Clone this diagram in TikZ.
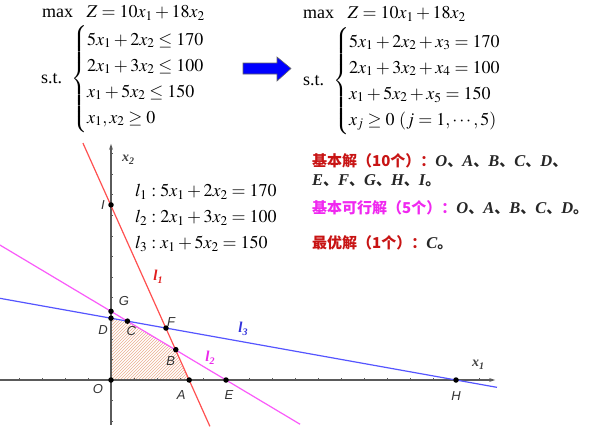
\documentclass[tikz,border=0pt]{standalone}
\usepackage{mathptmx}
\usepackage{fontspec}
\setmainfont{Liberation Serif}
\newfontfamily\cjk{Noto Sans CJK SC}
\newfontfamily\gsans{Liberation Sans}
\usetikzlibrary{patterns,arrows.meta}
\definecolor{lineR}{RGB}{255,80,80}
\definecolor{lineM}{RGB}{250,90,250}
\definecolor{lineB}{RGB}{85,85,255}
\definecolor{labR}{RGB}{225,30,30}
\definecolor{labM}{RGB}{235,40,235}
\definecolor{labB}{RGB}{50,50,220}
\definecolor{txtR}{RGB}{200,20,20}
\definecolor{txtM}{RGB}{240,40,240}
\definecolor{axisc}{RGB}{90,90,90}
\newcommand\LL[1]{{\rmfamily\bfseries\itshape\fontsize{16.5}{18}\selectfont #1}}
\newcommand\bsub[2]{\textbf{\textit{#1}}\raisebox{-3pt}{\fontsize{10}{10}\selectfont\textbf{\textit{#2}}}}
\tikzset{
  eq/.style={anchor=west, inner sep=0pt, font=\fontsize{18}{22}\selectfont},
  cn/.style={anchor=west, inner sep=0pt, font=\cjk\bfseries\fontsize{15}{18}\selectfont},
  dot/.style={circle, fill=black, inner sep=0pt, minimum size=5.5pt},
  ptlab/.style={inner sep=0pt, font=\gsans\itshape\fontsize{13}{13}\selectfont, text=black!80},
  axis/.style={draw=axisc, line width=1.1pt},
  tick/.style={draw=axisc, line width=0.5pt},
  lline/.style={line width=1.2pt},
}
\begin{document}
\begin{tikzpicture}[x=1pt,y=-1pt]
\useasboundingbox[fill=white] (0,0) rectangle (612,434);
% ---- left model
\node[eq] (objL) at (42,13) {max\ \ \ $Z=10x_1+18x_2$};
\node[eq] (stL) at (41,79) {s.t.\ \ $\def\arraystretch{1.18}\left\{\begin{array}{@{}l@{}}5x_1+2x_2\le 170\\ 2x_1+3x_2\le 100\\ x_1+5x_2\le 150\\ x_1,x_2\ge 0\end{array}\right.$};
% ---- arrow
\draw[fill=blue, draw=black!60, line width=0.6pt] (243,63) -- (277,63) -- (277,57) -- (291,68.5) -- (277,81) -- (277,74) -- (243,74) -- cycle;
% ---- right model
\node[eq] (objR) at (303,14) {max\ \ \ $Z=10x_1+18x_2$};
\node[eq] (stR) at (303,81) {s.t.\ \ $\def\arraystretch{1.18}\left\{\begin{array}{@{}l@{}}5x_1+2x_2+x_3=170\\ 2x_1+3x_2+x_4=100\\ x_1+5x_2+x_5=150\\ x_j\ge 0\ (j=1,\cdots,5)\end{array}\right.$};
% ---- text on right
\node[cn] (t1) at (312,161) {\color{txtR}基本解（10个）：\color{black!85}\LL{O}、\LL{A}、\LL{B}、\LL{C}、\LL{D}、};
\node[cn] (t2) at (312,181) {\color{black!85}\LL{E}、\LL{F}、\LL{G}、\LL{H}、\LL{I}。};
\node[cn] (t3) at (312,208) {\color{txtM}基本可行解（5个）：\color{black!85}\LL{O}、\LL{A}、\LL{B}、\LL{C}、\LL{D}。};
\node[cn] (t4) at (312,243) {\color{txtR}最优解（1个）：\color{black!85}\LL{C}。};
% ---- equations on graph
\node[eq] (e1) at (135,192) {$l_1 : 5x_1+2x_2=170$};
\node[eq] (e2) at (135,218) {$l_2 : 2x_1+3x_2=100$};
\node[eq] (e3) at (135,244) {$l_3 : x_1+5x_2=150$};
% ---- graph
\begin{scope}[shift={(111,380)}, x=2.3pt, y=2.06pt]
  \coordinate (O) at (0,0);
  \coordinate (A) at (34,0);
  \coordinate (B) at (28.18,14.73);
  \coordinate (C) at (7.143,28.571);
  \coordinate (D) at (0,30);
  \coordinate (E) at (50,0);
  \coordinate (F) at (23.91,25.22);
  \coordinate (G) at (0,33.33);
  \coordinate (H) at (150,0);
  \coordinate (I) at (0,85);
  \fill[pattern=north east lines, pattern color={rgb,255:red,235;green,175;blue,145}] (O) -- (A) -- (B) -- (C) -- (D) -- cycle;
  \coordinate (xs) at (-48.3,0);
  \coordinate (xe) at (167,0);
  \coordinate (ys) at (0,-21.8);
  \coordinate (ye) at (0,114.6);
  \foreach \k in {-40,-30,...,160} {\ifnum\k=0\else\draw[tick] (\k,0) -- (\k,1);\fi}
  \foreach \k in {-20,-10,10,20,...,110} {\draw[tick] (0,\k) -- (0.9,\k);}
  \draw[axis, -{Stealth[length=6pt,width=4pt]}] (xs) -- (xe);
  \draw[axis, -{Stealth[length=6pt,width=4pt]}] (ys) -- (ye);
  \coordinate (l1a) at (-12.2,115);
  \coordinate (l1b) at (43,-22.5);
  \coordinate (l2a) at (-48.3,65.53);
  \coordinate (l2b) at (82.2,-21.47);
  \coordinate (l3a) at (-48.3,39.66);
  \coordinate (l3b) at (167.8,-3.56);
  \draw[lline, lineM] (l2a) -- (l2b);
  \draw[lline, lineB] (l3a) -- (l3b);
  \draw[lline, lineR] (l1a) -- (l1b);
  \foreach \p in {O,A,B,C,D,E,F,G,H,I} {\node[dot] (d\p) at (\p) {};}
  \node[ptlab] (nG) at ([shift={(13pt,10pt)}]G) {G};
  \node[ptlab] (nD) at ([shift={(-8pt,-12pt)}]D) {D};
  \node[ptlab] (nC) at ([shift={(4pt,-10pt)}]C) {C};
  \node[ptlab] (nF) at ([shift={(5pt,6pt)}]F) {F};
  \node[ptlab] (nB) at ([shift={(-5pt,-11pt)}]B) {B};
  \node[ptlab] (nA) at ([shift={(-8pt,-15pt)}]A) {A};
  \node[ptlab] (nE) at ([shift={(3pt,-15pt)}]E) {E};
  \node[ptlab] (nO) at ([shift={(-13pt,-9pt)}]O) {O};
  \node[ptlab] (nH) at ([shift={(0pt,-16pt)}]H) {H};
  \node[ptlab] (nI) at ([shift={(-8pt,0pt)}]I) {I};
\end{scope}
\node[inner sep=0pt, text=labR, font=\fontsize{15}{15}\selectfont] (ll1) at (158,277) {\bsub{l}{1}};
\node[inner sep=0pt, text=labM, font=\fontsize{15}{15}\selectfont] (ll2) at (210,358) {\bsub{l}{2}};
\node[inner sep=0pt, text=labB, font=\fontsize{15}{15}\selectfont] (ll3) at (243,329) {\bsub{l}{3}};
\node[inner sep=0pt, text=black!75, font=\fontsize{14}{14}\selectfont] (lx2) at (128,160) {\bsub{x}{2}};
\node[inner sep=0pt, text=black!75, font=\fontsize{14}{14}\selectfont] (lx1) at (478,365) {\bsub{x}{1}};
\end{tikzpicture}
\end{document}
